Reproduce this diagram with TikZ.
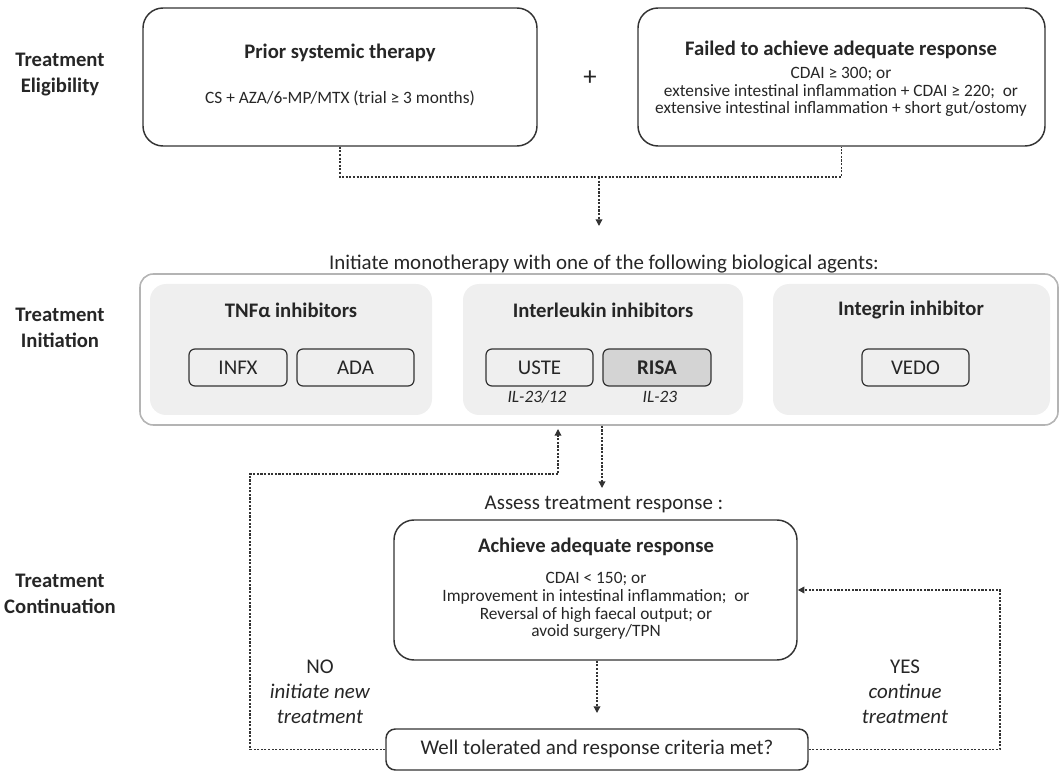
\documentclass[tikz,border=0pt]{standalone}
\usepackage{fontspec}
\setmainfont{Carlito}
\usetikzlibrary{fit,arrows.meta}
\definecolor{txt}{HTML}{262626}
\definecolor{boxline}{HTML}{333333}
\definecolor{outerline}{HTML}{B4B4B4}
\definecolor{grpfill}{HTML}{EFEFEF}
\definecolor{risafill}{HTML}{D4D4D4}
\newcommand\ttlfont{\fontsize{15.5}{19.5}\selectfont\bfseries}
\newcommand\bdyfont{\fontsize{13}{13.3}\selectfont}
\newcommand\bigfont{\fontsize{15.7}{18.75}\selectfont}
\begin{document}
\begin{tikzpicture}[x=0.75pt,y=-0.75pt,
  every node/.style={text=txt, font=\bdyfont},
  bigbox/.style={draw=boxline, line width=1.1pt, rounded corners=15pt, inner sep=0pt},
  outerbox/.style={draw=outerline, line width=1.2pt, rounded corners=10pt, inner sep=0pt},
  grpbox/.style={fill=grpfill, rounded corners=12pt, inner sep=0pt},
  drugbox/.style={draw=boxline, line width=0.9pt, rounded corners=4.5pt, inner sep=0pt, minimum height=27.75pt, font=\bigfont},
  smallbox/.style={draw=boxline, line width=1.1pt, rounded corners=7pt, inner sep=0pt},
  ttl/.style={font=\ttlfont},
  lbl/.style={font=\ttlfont, align=center},
  free/.style={font=\bigfont, align=center},
  conn/.style={draw=boxline, line width=1pt, dash pattern=on 1.6pt off 1.1pt},
  arr/.style={conn, -{Triangle[length=5pt,width=5pt]}}
]
\useasboundingbox (0,0) rectangle (1060,773);

% side labels
\node[lbl] (lblE) at (60,75) {Treatment\\Eligibility};
\node[lbl] (lblI) at (60,328) {Treatment\\Initiation};
\node[lbl] (lblC) at (60,594) {Treatment\\Continuation};

% eligibility boxes
\node[bigbox, fit={(143,8) (537,146)}] (pst) {};
\node[ttl] (pstT) at (340,53) {Prior systemic therapy};
\node (pstB) at (340,98) {CS + AZA/6-MP/MTX (trial ≥ 3 months)};
\node[font=\fontsize{20}{20}\selectfont] (plus) at (590,78) {+};
\node[bigbox, fit={(638,8) (1045,146)}] (far) {};
\node[ttl] (farT) at (841,50) {Failed to achieve adequate response};
\node[align=center] (farB) at (841,92) {CDAI ≥ 300; or\\extensive intestinal inflammation + CDAI ≥ 220;\ \ or\\extensive intestinal inflammation + short gut/ostomy};

\coordinate (jm) at (599,177);
\coordinate (jtip) at (599,226);
\draw[conn] (pst.south) |- (jm) -| (far.south);
\draw[arr] (jm) -- (jtip);

% initiation
\node[free] (initT) at (604,264) {Initiate monotherapy with one of the following biological agents:};
\node[outerbox, fit={(140,274) (1058,425)}] (outer) {};
\node[grpbox, fit={(150,284) (432,415)}] (tnf) {};
\node[grpbox, fit={(463,284) (743,415)}] (il) {};
\node[grpbox, fit={(773,284) (1050,415)}] (intg) {};
\node[ttl] (tnfT) at (291,310) {TNFα inhibitors};
\node[ttl] (ilT) at (603,310) {Interleukin inhibitors};
\node[ttl] (intgT) at (911,310) {Integrin inhibitor};
\node[drugbox, minimum width=73.5pt] (infx) at (238,367.5) {INFX};
\node[drugbox, minimum width=87.75pt] (ada) at (355.5,367.5) {ADA};
\node[drugbox, minimum width=80.25pt] (uste) at (539.5,367.5) {USTE};
\node[drugbox, minimum width=81pt, fill=risafill, font=\bigfont\bfseries] (risa) at (657,367.5) {RISA};
\node[drugbox, minimum width=80.25pt] (vedo) at (915.5,367.5) {VEDO};
\node[font=\bdyfont\itshape] (usteL) at (537,397) {IL-23/12};
\node[font=\bdyfont\itshape] (risaL) at (660,397) {IL-23};

% continuation
\coordinate (dnTip) at (602,488);
\draw[arr] (outer.south -| dnTip) -- (dnTip);
\node[free] (assess) at (604,504) {Assess treatment response :};
\node[bigbox, fit={(394,520) (797,660)}] (ach) {};
\node[ttl] (achT) at (596,547) {Achieve adequate response};
\node[align=center, font=\fontsize{13}{13.3}\selectfont] (achB) at (596,606) {CDAI < 150; or\\Improvement in intestinal inflammation;\ \ or\\Reversal of high faecal output; or\\avoid surgery/TPN};
\node[smallbox, fit={(386,729) (808,770)}] (well) {};
\node[free] (wellT) at (597,749) {Well tolerated and response criteria met?};
\coordinate (wTip) at (597,713);
\draw[arr] (ach.south -| wTip) -- (wTip);

\coordinate (nc) at (250,474);
\coordinate (upTip) at (558,429);
\draw[arr] (well.west) -| (nc) -| (upTip);
\coordinate (yc) at (1000,590);
\draw[arr] (well.east) -| (yc) -- (ach.east |- yc);

\node[free] (noT) at (320,692) {NO\\\textit{initiate new}\\\textit{treatment}};
\node[free] (yesT) at (905,692) {YES\\\textit{continue}\\\textit{treatment}};
\end{tikzpicture}
\end{document}
